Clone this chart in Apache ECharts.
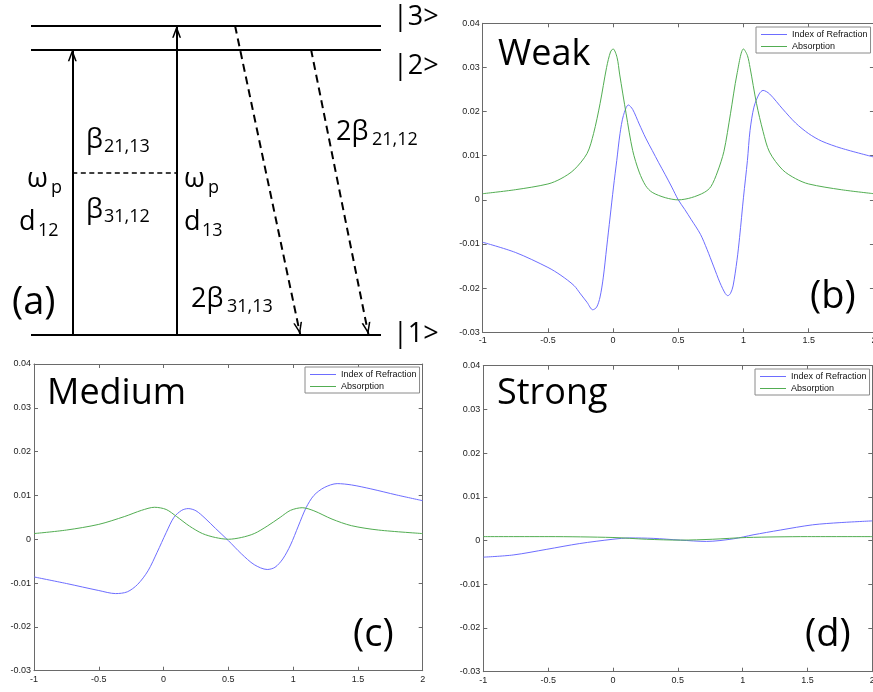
<!DOCTYPE html>
<html>
<head>
<meta charset="utf-8">
<script src="https://cdn.jsdelivr.net/npm/echarts@6/dist/echarts.min.js"></script>
<style>
  html, body { margin: 0; padding: 0; background: #fff; }
  #chart { width: 873px; height: 692px; }
</style>
</head>
<body>
<div id="chart"></div>
<script>
// ---- level diagram (a), in energy units: |1> = 0, |3> = 1 ----
const levelE = [0, 0.9235, 1];
const pumpX = [0.118, 0.416];
const pumpTop = [0.9235, 1];
const decayFromX = [0.583, 0.8];
const decayFromE = [1, 0.9235];
const decayToX = [0.769, 0.964];
const dephaseE = 0.525;

// ---- (b) weak ----
const weakIdxX = [-1, -0.75, -0.5, -0.4, -0.3, -0.25, -0.2, -0.156, -0.126, -0.1, -0.075, -0.049, -0.023, 0.003, 0.028, 0.053, 0.079, 0.117, 0.15, 0.2, 0.25, 0.3, 0.35, 0.4, 0.45, 0.5, 0.55, 0.6, 0.67, 0.72, 0.77, 0.82, 0.86, 0.88, 0.9, 0.92, 0.95, 0.97, 1, 1.03, 1.05, 1.08, 1.12, 1.15, 1.2, 1.3, 1.4, 1.5, 1.6, 1.75, 2];
const weakIdx = [-0.0096, -0.0119, -0.0153, -0.0171, -0.0194, -0.0213, -0.0232, -0.0249, -0.0243, -0.0220, -0.0175, -0.0107, -0.0039, 0.0029, 0.0089, 0.0150, 0.0191, 0.0215, 0.0205, 0.0172, 0.0140, 0.0112, 0.0084, 0.0057, 0.0029, 0.0000, -0.0022, -0.0045, -0.0078, -0.0112, -0.0150, -0.0188, -0.0212, -0.0217, -0.0212, -0.0195, -0.0137, -0.0085, 0.0006, 0.0089, 0.0157, 0.0210, 0.0240, 0.0248, 0.0240, 0.0206, 0.0174, 0.0150, 0.0133, 0.0117, 0.0097];
const weakAbsX = [-1, -0.75, -0.5, -0.4, -0.3, -0.2, -0.15, -0.1, -0.05, -0.02, 0, 0.03, 0.05, 0.1, 0.15, 0.2, 0.25, 0.3, 0.4, 0.5, 0.6, 0.7, 0.75, 0.8, 0.85, 0.9, 0.95, 1.0, 1.03, 1.05, 1.1, 1.15, 1.2, 1.3, 1.4, 1.5, 1.75, 2];
const weakAbs = [0.0014, 0.0023, 0.0036, 0.0048, 0.0068, 0.0105, 0.0150, 0.0218, 0.0300, 0.0335, 0.0342, 0.0323, 0.0285, 0.0195, 0.0112, 0.0063, 0.0032, 0.0017, 0.0005, 0.0000, 0.0005, 0.0017, 0.0030, 0.0063, 0.0110, 0.0195, 0.0285, 0.0342, 0.0327, 0.0300, 0.0218, 0.0155, 0.0108, 0.0068, 0.0048, 0.0036, 0.0023, 0.0014];

// ---- (c) medium ----
const medIdxX = [-1, -0.75, -0.5, -0.37, -0.28, -0.2, -0.12, -0.05, 0.02, 0.08, 0.14, 0.19, 0.25, 0.32, 0.4, 0.5, 0.6, 0.7, 0.8, 0.86, 0.92, 0.98, 1.04, 1.1, 1.16, 1.24, 1.34, 1.45, 1.6, 1.8, 2];
const medIdx = [-0.0086, -0.0101, -0.0117, -0.0124, -0.0120, -0.0103, -0.0072, -0.0030, 0.0015, 0.0050, 0.0066, 0.0070, 0.0065, 0.0048, 0.0025, -0.0003, -0.0033, -0.0058, -0.0069, -0.0064, -0.0045, -0.0013, 0.0030, 0.0072, 0.0100, 0.0118, 0.0127, 0.0124, 0.0115, 0.0101, 0.0088];
const medAbsX = [-1, -0.75, -0.5, -0.3, -0.17, -0.07, 0.02, 0.1, 0.2, 0.3, 0.4, 0.5, 0.6, 0.7, 0.8, 0.9, 0.98, 1.07, 1.16, 1.3, 1.45, 1.66, 2];
const medAbs = [0.0013, 0.0021, 0.0034, 0.0052, 0.0066, 0.0073, 0.0068, 0.0052, 0.0030, 0.0013, 0.0004, 0.0000, 0.0004, 0.0013, 0.0030, 0.0050, 0.0066, 0.0072, 0.0065, 0.0046, 0.0031, 0.0021, 0.0013];

// ---- (d) strong ----
const strIdxX = [-1, -0.77, -0.51, -0.26, 0, 0.13, 0.31, 0.52, 0.72, 0.93, 1.08, 1.29, 1.54, 1.75, 2];
const strIdx = [-0.0038, -0.0033, -0.0020, -0.0007, 0.0003, 0.0006, 0.0005, 0.0001, -0.0002, 0.0004, 0.0013, 0.0024, 0.0036, 0.0041, 0.0045];
const strAbsX = [-1, -0.5, 0, 0.26, 0.52, 0.77, 1.03, 1.5, 2];
const strAbs = [0.0009, 0.0009, 0.0007, 0.0003, 0.0001, 0.0003, 0.0007, 0.0009, 0.0009];

const legendNames = ['Index of Refraction', 'Absorption'];
const blue = '#6d6dff';
const green = '#52ad52';
const axisColor = '#6a6a6a';

const chart = echarts.init(document.getElementById('chart'));

function pairs(xs, ys) {
    return xs.map(function (x, i) { return [x, ys[i]]; });
}

const tickFont = {fontSize: 9, fontFamily: 'Liberation Sans', color: '#222'};

function xAxes(g) {
    const base = {
        type: 'value', gridIndex: g, min: -1, max: 2, interval: 0.5,
        axisLine: {show: true, onZero: false, lineStyle: {color: axisColor, width: 1}},
        axisTick: {show: true, inside: true, length: 4, lineStyle: {color: axisColor}},
        splitLine: {show: false}
    };
    return [
        Object.assign({}, base, {position: 'bottom', axisLabel: Object.assign({margin: 4}, tickFont)}),
        Object.assign({}, base, {position: 'top', axisLabel: {show: false}})
    ];
}

function yAxes(g) {
    const base = {
        type: 'value', gridIndex: g, min: -0.03, max: 0.04, interval: 0.01,
        axisLine: {show: true, onZero: false, lineStyle: {color: axisColor, width: 1}},
        axisTick: {show: true, inside: true, length: 4, lineStyle: {color: axisColor}},
        splitLine: {show: false}
    };
    return [
        Object.assign({}, base, {position: 'left', axisLabel: Object.assign({margin: 3}, tickFont)}),
        Object.assign({}, base, {position: 'right', axisLabel: {show: false}})
    ];
}

// each panel gets its own series names ("name|panel"); the legend shows the part before "|"
function curve(name, panel, axis, data, color) {
    return {
        name: name + '|' + panel, type: 'line', xAxisIndex: axis, yAxisIndex: axis,
        data: data, smooth: 0.3, symbol: 'none', showSymbol: false,
        color: color, lineStyle: {color: color, width: 1}, itemStyle: {color: color}
    };
}

function legendAt(panel, left, top) {
    return {
        left: left, top: top, orient: 'vertical',
        data: [
            {name: legendNames[0] + '|' + panel, icon: 'rect', itemStyle: {color: blue, borderWidth: 0}},
            {name: legendNames[1] + '|' + panel, icon: 'rect', itemStyle: {color: green, borderWidth: 0}}
        ],
        formatter: function (n) { return n.split('|')[0]; },
        itemWidth: 26, itemHeight: 1, itemGap: 3,
        padding: [3, 3, 2, 5], borderColor: '#8a8a8a', borderWidth: 1,
        backgroundColor: '#fff', selectedMode: false,
        textStyle: {fontSize: 9, fontFamily: 'Liberation Sans', color: '#111'}
    };
}

function T(x, y, text, size) {
    return {
        type: 'text', x: x, y: y, silent: true,
        style: {
            text: text, font: size + 'px "Open Sans"', fill: '#000',
            align: 'left', verticalAlign: 'middle',
            textAlign: 'left', textVerticalAlign: 'middle'
        }
    };
}

// open chevron arrow head, tip at the centre of its box
const headPath = 'path://M-7.5,-12 M16.5,12 M0,12 L4.5,0 L9,12 L7.4,12 L4.5,4.2 L1.6,12 Z';

const xa = [{type: 'value', gridIndex: 0, min: 0, max: 1, show: false}]
    .concat(xAxes(1), xAxes(2), xAxes(3));
const ya = [{type: 'value', gridIndex: 0, min: 0, max: 1, show: false}]
    .concat(yAxes(1), yAxes(2), yAxes(3));

const option = {
    animation: false,
    backgroundColor: '#fff',
    grid: [
        {left: 31, top: 25.7, width: 350, height: 308.6, show: false, outerBoundsMode: 'none'},
        {left: 482.7, top: 23.3, width: 391.2, height: 309, outerBoundsMode: 'none'},
        {left: 34, top: 364, width: 388.7, height: 306.7, outerBoundsMode: 'none'},
        {left: 483.3, top: 365.7, width: 389, height: 306, outerBoundsMode: 'none'}
    ],
    xAxis: xa,
    yAxis: ya,
    legend: [legendAt('b', 756, 27), legendAt('c', 305, 367), legendAt('d', 755, 369)],
    series: [
        {
            type: 'lines', coordinateSystem: 'cartesian2d', xAxisIndex: 0, yAxisIndex: 0,
            clip: false, silent: true,
            lineStyle: {color: '#000', width: 2, opacity: 1},
            data: levelE.map(function (e) { return {coords: [[0, e], [1, e]]}; })
        },
        {
            type: 'lines', coordinateSystem: 'cartesian2d', xAxisIndex: 0, yAxisIndex: 0,
            clip: false, silent: true,
            symbol: ['none', headPath], symbolSize: 24,
            lineStyle: {color: '#000', width: 2, opacity: 1},
            data: pumpX.map(function (x, i) { return {coords: [[x, 0], [x, pumpTop[i]]]}; })
        },
        {
            type: 'lines', coordinateSystem: 'cartesian2d', xAxisIndex: 0, yAxisIndex: 0,
            clip: false, silent: true,
            symbol: ['none', headPath], symbolSize: 24,
            lineStyle: {color: '#000', width: 2, opacity: 1, type: [8, 5]},
            data: decayFromX.map(function (x, i) { return {coords: [[x, decayFromE[i]], [decayToX[i], 0]]}; })
        },
        {
            type: 'lines', coordinateSystem: 'cartesian2d', xAxisIndex: 0, yAxisIndex: 0,
            clip: false, silent: true,
            lineStyle: {color: '#000', width: 1.5, opacity: 1, type: [5, 3.5]},
            data: [{coords: [[pumpX[0], dephaseE], [pumpX[1], dephaseE]]}]
        },
        curve(legendNames[0], 'b', 1, pairs(weakIdxX, weakIdx), blue),
        curve(legendNames[1], 'b', 1, pairs(weakAbsX, weakAbs), green),
        curve(legendNames[0], 'c', 3, pairs(medIdxX, medIdx), blue),
        curve(legendNames[1], 'c', 3, pairs(medAbsX, medAbs), green),
        curve(legendNames[0], 'd', 5, pairs(strIdxX, strIdx), blue),
        curve(legendNames[1], 'd', 5, pairs(strAbsX, strAbs), green)
    ],
    graphic: [
        T(393, 17, '|3>', 27), T(393, 66, '|2>', 27), T(393, 334, '|1>', 27),
        T(86, 140, 'β', 27), T(104, 147, '21,13', 18),
        T(86, 210, 'β', 27), T(104, 217, '31,12', 18),
        T(27, 179, 'ω', 27), T(51, 188, 'p', 18),
        T(19, 222, 'd', 27), T(38, 231, '12', 18),
        T(184, 179, 'ω', 27), T(208, 188, 'p', 18),
        T(184, 222, 'd', 27), T(202, 231, '13', 18),
        T(336, 132, '2β', 27), T(372, 140, '21,12', 18),
        T(191, 299, '2β', 27), T(227, 307, '31,13', 18),
        T(12, 303, '(a)', 38),
        T(498, 55, 'Weak', 36), T(810, 297, '(b)', 38),
        T(47, 394, 'Medium', 36), T(353, 635, '(c)', 38),
        T(497, 394, 'Strong', 36), T(805, 635, '(d)', 38)
    ]
};

chart.setOption(option);

window.addEventListener('resize', function () {
    chart.resize();
});
</script>
</body>
</html>
